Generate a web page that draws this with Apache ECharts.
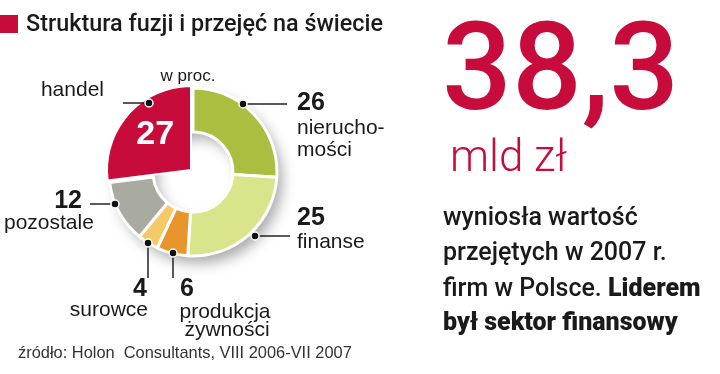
<!DOCTYPE html>
<html><head><meta charset="utf-8">
<script src="https://cdn.jsdelivr.net/npm/echarts@6/dist/echarts.min.js"></script>
<style>html,body{margin:0;padding:0;background:#fff}#c{width:720px;height:374px}</style>
</head><body><div id="c"></div>
<script>
// ---- data ----
const title = 'Struktura fuzji i przejęć na świecie';
const unitNote = 'w proc.';
const categories = ['nieruchomości', 'finanse', 'produkcja żywności', 'surowce', 'pozostale', 'handel'];
const labelLines = [['nierucho-', 'mości'], ['finanse'], ['produkcja', 'żywności'], ['surowce'], ['pozostale'], ['handel']];
const values = [26, 25, 6, 4, 12, 27];
const bigValue = '38,3';
const bigUnit = 'mld zł';
const noteLines = ['wyniosła wartość', 'przejętych w 2007 r.', 'firm w Polsce.', 'Liderem', 'był sektor finansowy'];
const source = 'źródło: Holon  Consultants, VIII 2006-VII 2007';

// ---- style / layout ----
const RED = '#c70b3b';
const sliceColors = ['#abbe3f', '#d9e48b', '#e8952b', '#f5c965', '#a9aba0', RED];
const CX = 193, CY = 172, R0 = 40, R1 = 84;
const SANS = '"Liberation Sans", Arial, sans-serif';
const ROBOTO = 'Roboto, "Liberation Sans", sans-serif';

// annotation layout per category index
const ann = [
  {dot: [243, 104], end: [287, 104], num: [297, 103, 'left'], lines: [[297, 128, 'left'], [297, 150, 'left']]},
  {dot: [255, 236], end: [290, 236], num: [297, 218, 'left'], lines: [[297, 242, 'left']]},
  {dot: [173, 253], end: [173, 278], num: [180, 289, 'left'], lines: [[225, 312, 'center'], [227, 330, 'center']]},
  {dot: [148, 243], end: [148, 278], num: [147, 289, 'right'], lines: [[148, 310, 'right']]},
  {dot: [115, 204], end: [90, 204], num: [82, 201, 'right'], lines: [[4, 223, 'left']]},
  {dot: [149, 103], end: [123, 103], num: null, lines: [[104, 90, 'right']]}
];

function T(x, y, text, o) {
  o = o || {};
  const st = {
    text: text,
    fontSize: o.size || 21,
    fontFamily: o.family || SANS,
    fontWeight: o.weight || 'normal',
    fill: o.fill || '#1a1a1a',
    align: o.align || 'left', textAlign: o.align || 'left',
    verticalAlign: o.va || 'middle', textVerticalAlign: o.va || 'middle'
  };
  if (o.rich) st.rich = o.rich;
  const el = {type: 'text', x: x, y: y, z: 100, style: st, silent: true};
  if (o.sx) { el.scaleX = o.sx; el.originX = 0; el.originY = 0; }
  return el;
}

const graphics = [];
// title
graphics.push({type: 'rect', shape: {x: 0, y: 15, width: 18, height: 18}, style: {fill: RED}, silent: true});
graphics.push(T(26, 25, title, {size: 24, family: ROBOTO, weight: 500, sx: 0.975}));
graphics.push(T(188, 76, unitNote, {size: 17, family: SANS, align: 'center'}));

// annotations
ann.forEach(function (a, i) {
  graphics.push({type: 'line', shape: {x1: a.dot[0], y1: a.dot[1], x2: a.end[0], y2: a.end[1]},
    style: {stroke: '#222', lineWidth: 1.5}, z: 90, silent: true});
  graphics.push({type: 'circle', shape: {cx: a.dot[0], cy: a.dot[1], r: 4},
    style: {fill: '#111', stroke: '#fff', lineWidth: 1.5}, z: 91, silent: true});
  if (a.num) graphics.push(T(a.num[0], a.num[1], String(values[i]), {size: 25, weight: 'bold', align: a.num[2], family: SANS}));
  labelLines[i].forEach(function (ln, j) {
    const p = a.lines[j];
    graphics.push(T(p[0], p[1], ln, {size: 21, align: p[2]}));
  });
});

// right block
graphics.push(T(442, 78, bigValue, {size: 123, family: ROBOTO, weight: 500, fill: RED}));
graphics.push(T(450, 160, bigUnit, {size: 44, family: ROBOTO, weight: 300, fill: RED}));
const nb = {size: 25, family: ROBOTO, weight: 500, fill: '#1a1a1a'};
graphics.push(T(443, 219, noteLines[0], nb));
graphics.push(T(443, 254, noteLines[1], nb));
graphics.push(T(443, 290, '{r|' + noteLines[2] + '} {b|' + noteLines[3] + '}', Object.assign({}, nb, {
  rich: {r: {fontSize: 25, fontFamily: ROBOTO, fontWeight: 500, fill: '#1a1a1a'},
         b: {fontSize: 25, fontFamily: ROBOTO, fontWeight: 900, fill: '#1a1a1a'}}})));
graphics.push(T(443, 324, noteLines[4], Object.assign({}, nb, {weight: 900})));
// source
graphics.push(T(18, 353, source, {size: 17, family: SANS, fill: '#333', sx: 0.965}));

const ringData = categories.map(function (c, i) {
  return {name: c, value: values[i], itemStyle: i === 5 ? {opacity: 0} : {color: sliceColors[i]}};
});
const wedgeData = categories.map(function (c, i) {
  return {name: c, value: values[i], itemStyle: i === 5 ? {color: sliceColors[i]} : {opacity: 0},
    label: {show: i === 5}};
});

const chart = echarts.init(document.getElementById('c'), null, {renderer: 'canvas'});
chart.setOption({
  animation: false,
  backgroundColor: '#fff',
  series: [
    { // shadow base
      type: 'pie', silent: true, center: [CX, CY], radius: [R0 + 2, R1 - 1], startAngle: 90,
      data: [{value: 1, itemStyle: {color: '#fff', shadowBlur: 14, shadowOffsetX: 6, shadowOffsetY: 8, shadowColor: 'rgba(0,0,0,0.35)'}}],
      label: {show: false}, labelLine: {show: false}, z: 1
    },
    {
      type: 'pie', silent: true, center: [CX, CY], radius: [R0, R1], startAngle: 90, clockwise: true,
      data: ringData, itemStyle: {borderColor: '#fff', borderWidth: 3},
      label: {show: false}, labelLine: {show: false}, z: 2
    },
    {
      type: 'pie', silent: true, center: [CX - 2, CY - 2], radius: [0, R1], startAngle: 90, clockwise: true,
      data: wedgeData, itemStyle: {borderColor: '#fff', borderWidth: 2},
      label: {position: 'inside', formatter: '{c}', color: '#fff', fontSize: 34, fontWeight: 'bold', fontFamily: SANS},
      labelLine: {show: false}, labelLayout: {dx: -2, dy: -6}, z: 3
    }
  ],
  graphic: graphics
});
</script>
</body></html>
